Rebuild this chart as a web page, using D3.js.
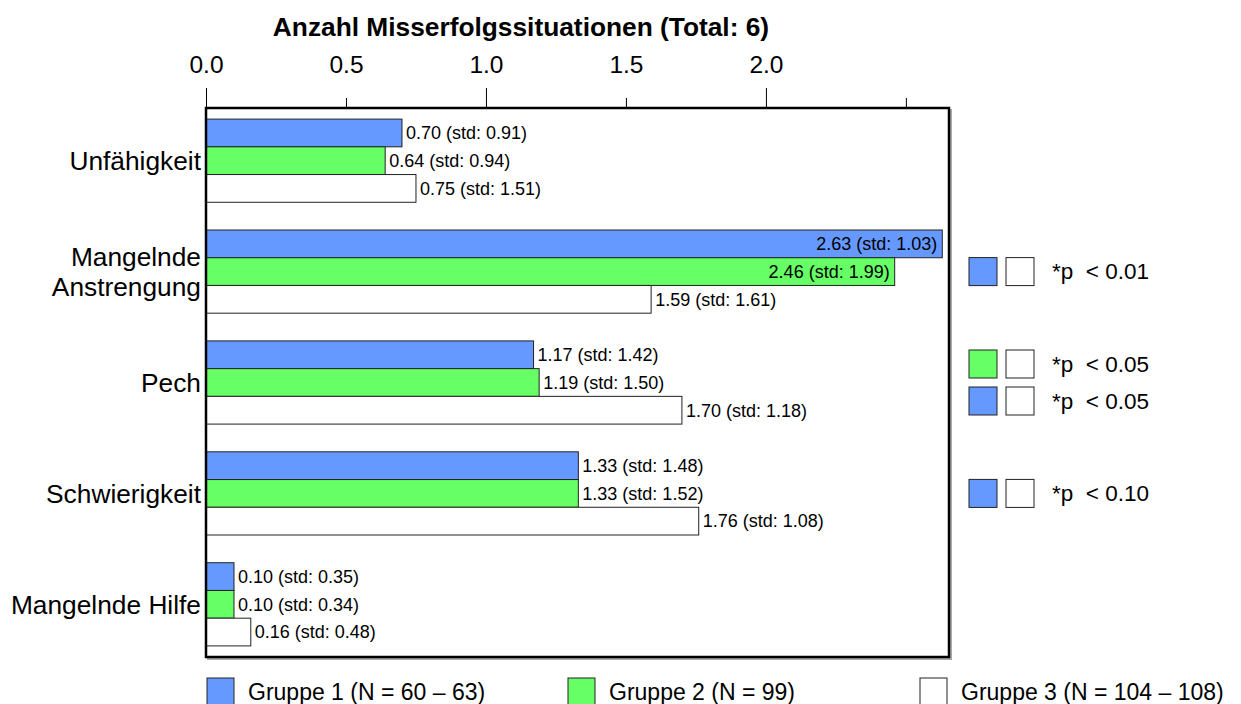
<!DOCTYPE html>
<html lang="de">
<head>
    <meta charset="UTF-8">
    <title>Anzahl Misserfolgssituationen</title>
    <script src="https://cdn.jsdelivr.net/npm/d3@7"></script>
    <style>
        body{ margin:0; background:#fff; }
        svg{ display:block; font-family:"Liberation Sans", Arial, sans-serif; }
    </style>
</head>
<body>
<script>
// data
const categories = ["Unfähigkeit", "Mangelnde Anstrengung", "Pech", "Schwierigkeit", "Mangelnde Hilfe"];
const groups = ["Gruppe 1 (N = 60 – 63)", "Gruppe 2 (N = 99)", "Gruppe 3 (N = 104 – 108)"];
const means1 = [0.70, 2.63, 1.17, 1.33, 0.10];
const std1   = [0.91, 1.03, 1.42, 1.48, 0.35];
const means2 = [0.64, 2.46, 1.19, 1.33, 0.10];
const std2   = [0.94, 1.99, 1.50, 1.52, 0.34];
const means3 = [0.75, 1.59, 1.70, 1.76, 0.16];
const std3   = [1.51, 1.61, 1.18, 1.08, 0.48];
const tickValues = [0, 0.5, 1.0, 1.5, 2.0, 2.5];
const tickLabels = ["0.0", "0.5", "1.0", "1.5", "2.0", ""];
const colors = ["#6699ff", "#66ff66", "#ffffff"];
// significance markers: which group compared with group 3, next to which category
const sigGroup = [0, 1, 0, 0];
const sigCategory = ["Mangelnde Anstrengung", "Pech", "Pech", "Schwierigkeit"];
const sigLabel = ["*p\u00a0\u00a0< 0.01", "*p\u00a0\u00a0< 0.05", "*p\u00a0\u00a0< 0.05", "*p\u00a0\u00a0< 0.10"];

const width = 1241, height = 704;
const plot = {left: 206, right: 949, top: 108, bottom: 657};

const svg = d3.select("body").append("svg")
    .attr("width", width).attr("height", height)
    .attr("viewBox", `0 0 ${width} ${height}`);

const means = [means1, means2, means3];
const stds = [std1, std2, std3];

const xScale = d3.scaleLinear().domain([0, 2.654]).range([plot.left, plot.right]);
const yScale = d3.scaleBand().domain(categories)
    .range([plot.top, plot.bottom]).paddingInner(0.25).paddingOuter(0.1);
const ySub = d3.scaleBand().domain([0, 1, 2]).range([0, yScale.bandwidth()]);

// shadow of the frame
svg.append("rect")
    .attr("x", plot.left + 2).attr("y", plot.top + 2)
    .attr("width", plot.right - plot.left).attr("height", plot.bottom - plot.top)
    .attr("fill", "none").attr("stroke", "#aaa").attr("stroke-width", 2);
svg.append("rect")
    .attr("x", plot.left).attr("y", plot.top)
    .attr("width", plot.right - plot.left).attr("height", plot.bottom - plot.top)
    .attr("fill", "#fff");

// top axis
const xAxis = d3.axisTop(xScale)
    .tickValues(tickValues)
    .tickFormat((d, i) => tickLabels[i])
    .tickSize(10).tickPadding(25);
const gx = svg.append("g")
    .attr("transform", `translate(0,${plot.top})`)
    .call(xAxis);
gx.select(".domain").remove();
gx.selectAll(".tick line")
    .attr("stroke", "#000")
    .attr("y2", d => Number.isInteger(d) ? -20 : -10);
gx.selectAll(".tick text")
    .attr("fill", "#000")
    .style("font-size", "24.5px")
    .style("font-family", "\"Liberation Sans\", Arial, sans-serif");

svg.append("text")
    .attr("x", 521).attr("y", 36)
    .attr("text-anchor", "middle")
    .style("font-size", "26.3px").style("font-weight", "bold")
    .text("Anzahl Misserfolgssituationen (Total: 6)");

// bars
const rows = [];
categories.forEach((c, i) => {
    for (let g = 0; g < 3; g++) {
        rows.push({cat: c, g: g, v: means[g][i], s: stds[g][i]});
    }
});

const barG = svg.append("g");
barG.selectAll("rect").data(rows).enter().append("rect")
    .attr("x", xScale(0))
    .attr("y", d => yScale(d.cat) + ySub(d.g))
    .attr("width", d => xScale(d.v) - xScale(0))
    .attr("height", ySub.bandwidth())
    .attr("fill", d => colors[d.g])
    .attr("stroke", "#222").attr("stroke-width", 1);

// value labels, inside the bar if they would not fit
const labels = barG.selectAll("text.val").data(rows).enter().append("text")
    .attr("class", "val")
    .attr("y", d => yScale(d.cat) + ySub(d.g) + ySub.bandwidth() / 2)
    .attr("dy", "0.35em")
    .style("font-size", "18px")
    .text(d => `${d.v.toFixed(2)} (std: ${d.s.toFixed(2)})`);
labels.each(function(d) {
    const w = this.getComputedTextLength();
    const end = xScale(d.v);
    if (end + 4 + w > plot.right - 4) {
        d3.select(this).attr("x", end - 5).attr("text-anchor", "end");
    } else {
        d3.select(this).attr("x", end + 4).attr("text-anchor", "start");
    }
});

// frame on top of the bars
svg.append("rect")
    .attr("x", plot.left).attr("y", plot.top)
    .attr("width", plot.right - plot.left).attr("height", plot.bottom - plot.top)
    .attr("fill", "none").attr("stroke", "#000").attr("stroke-width", 2.5);

// category labels
const catLab = svg.append("g").selectAll("text").data(categories).enter().append("text")
    .attr("x", plot.left - 5)
    .attr("y", d => yScale(d) + yScale.bandwidth() / 2)
    .attr("text-anchor", "end")
    .style("font-size", "26.3px");
catLab.each(function(d) {
    const t = d3.select(this);
    if (d === "Mangelnde Anstrengung") {
        const parts = ["Mangelnde", "Anstrengung"];
        parts.forEach((p, k) => {
            t.append("tspan")
                .attr("x", plot.left - 5)
                .attr("dy", k === 0 ? "-0.22em" : "1.15em")
                .text(p);
        });
    } else {
        t.attr("dy", "0.35em").text(d);
    }
});

// significance legend on the right
const sq = 28;
const sig = sigGroup.map((g, i) => {
    const same = sigCategory.filter(c => c === sigCategory[i]).length;
    const k = sigCategory.slice(0, i).filter(c => c === sigCategory[i]).length;
    const cy = yScale(sigCategory[i]) + yScale.bandwidth() / 2 + (k - (same - 1) / 2) * 37;
    return {g: g, cy: cy, label: sigLabel[i]};
});
const sigG = svg.append("g").selectAll("g").data(sig).enter().append("g")
    .attr("transform", d => `translate(969,${d.cy})`);
sigG.append("rect")
    .attr("x", 0).attr("y", -sq / 2).attr("width", sq).attr("height", sq)
    .attr("fill", d => colors[d.g]).attr("stroke", "#222").attr("stroke-width", 1);
sigG.append("rect")
    .attr("x", 37).attr("y", -sq / 2).attr("width", sq).attr("height", sq)
    .attr("fill", colors[2]).attr("stroke", "#222").attr("stroke-width", 1);
sigG.append("text")
    .attr("x", 83).attr("dy", "0.35em")
    .style("font-size", "22.5px")
    .text(d => d.label);

// group legend at the bottom
const legendX = [207, 568, 920];
const leg = svg.append("g").selectAll("g").data(groups).enter().append("g")
    .attr("transform", (d, i) => `translate(${legendX[i]},678)`);
leg.append("rect")
    .attr("width", 27).attr("height", 28)
    .attr("fill", (d, i) => colors[i]).attr("stroke", "#222").attr("stroke-width", 1);
leg.append("text")
    .attr("x", 41).attr("y", 14).attr("dy", "0.35em")
    .style("font-size", "23px")
    .text(d => d);
</script>
</body>
</html>
